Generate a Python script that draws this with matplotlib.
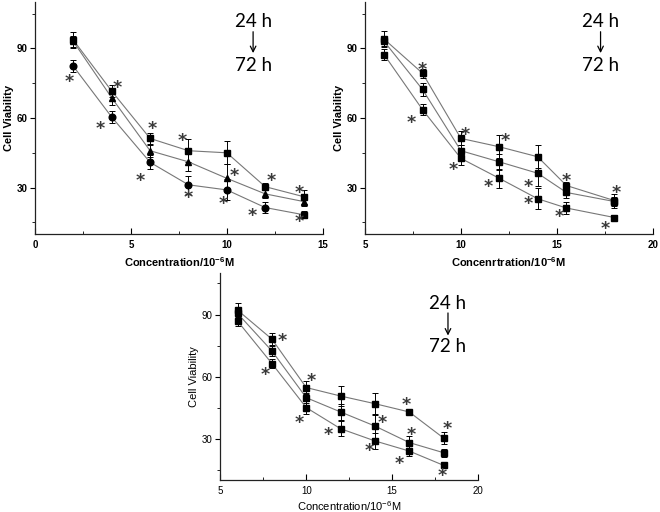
import numpy as np
import matplotlib
matplotlib.use("Agg")
import matplotlib.pyplot as plt
import matplotlib.transforms as mtransforms
from matplotlib.ticker import MultipleLocator

plt.rcParams['font.family'] = ['Liberation Sans', 'DejaVu Sans']
plt.rcParams['mathtext.fontset'] = 'custom'
plt.rcParams['mathtext.rm'] = 'Liberation Sans'
plt.rcParams['mathtext.bf'] = 'Liberation Sans:bold'

# -----------------------------
# Data
# -----------------------------
x1 = [2, 4, 6, 8, 10, 12, 14]
p1_sq = [93.6, 71.6, 51.2, 45.9, 45.0, 30.4, 26.1]
p1_sq_err = [3.5, 2.5, 2.5, 5.0, 5.0, 1.5, 3.0]
p1_tri = [93.0, 68.7, 45.9, 41.1, 34.0, 27.3, 24.0]
p1_tri_err = [2.5, 3.0, 2.5, 4.0, 6.0, 2.0, 2.0]
p1_cir = [82.3, 60.4, 40.9, 31.2, 29.0, 21.4, 18.3]
p1_cir_err = [2.5, 2.5, 3.0, 4.0, 4.5, 2.5, 1.5]
p1_stars_x = [1.8, 4.3, 3.4, 6.1, 5.5, 7.7, 8.0, 10.4, 9.8, 12.3, 11.3, 13.8, 13.8]
p1_stars_y = [77.6, 75.0, 57.3, 57.2, 34.7, 52.2, 27.3, 37.0, 24.7, 34.7, 19.5, 29.7, 16.9]

x2 = [6, 8, 10, 12, 14, 15.5, 18]
p2_a = [94.0, 79.3, 51.2, 47.6, 43.3, 30.9, 24.4]
p2_a_err = [3.5, 2.0, 3.0, 5.0, 5.0, 1.5, 3.0]
p2_b = [93.0, 72.3, 45.9, 41.1, 36.2, 27.9, 24.0]
p2_b_err = [2.0, 3.0, 2.5, 3.5, 5.5, 2.5, 2.0]
p2_c = [87.3, 63.6, 42.6, 34.0, 25.2, 21.2, 17.1]
p2_c_err = [2.5, 2.5, 3.0, 4.0, 4.5, 2.5, 1.0]
p2_stars_x = [8.0, 7.4, 10.2, 9.6, 12.3, 11.4, 13.5, 13.5, 15.5, 15.1, 18.1, 17.5]
p2_stars_y = [82.6, 59.7, 54.7, 39.7, 52.2, 32.1, 32.1, 24.7, 34.7, 19.3, 29.7, 14.3]

x3 = [6, 8, 10, 12, 14, 16, 18]
p3_a = [92.1, 78.1, 54.7, 50.6, 46.9, 42.9, 30.3]
p3_a_err = [3.5, 3.0, 3.0, 5.0, 5.3, 1.0, 3.0]
p3_b = [90.5, 72.4, 49.8, 42.9, 36.1, 28.1, 23.2]
p3_b_err = [2.0, 2.5, 2.5, 4.0, 6.0, 3.0, 2.0]
p3_c = [86.8, 66.3, 45.0, 34.8, 28.9, 24.0, 17.1]
p3_c_err = [2.5, 2.0, 3.0, 3.5, 4.0, 2.5, 1.0]
p3_stars_x = [8.6, 7.6, 10.3, 9.6, 11.3, 14.4, 13.7, 15.8, 16.1, 15.4, 18.2, 17.9]
p3_stars_y = [79.5, 62.7, 59.8, 39.7, 34.0, 39.7, 26.0, 48.2, 34.0, 19.8, 36.9, 13.9]


# -----------------------------
# Helpers
# -----------------------------
def draw_series(ax, x, y, err, markers):
    ax.plot(x, y, color='#777777', lw=0.8, zorder=1)
    ax.errorbar(x, y, yerr=err, fmt='none', ecolor='black', elinewidth=0.7,
                capsize=2.5, capthick=0.7, zorder=2)
    for xi, yi, m in zip(x, y, markers):
        ax.plot(xi, yi, marker=m, color='black', ms=4.8, zorder=3, ls='none')


def style_axes(ax, xlim, xmajor, xlabel, bold=True, xlabel_pad=4):
    weight = 'bold' if bold else 'normal'
    ax.set_xlim(*xlim)
    ax.set_ylim(10, 110)
    ax.spines['top'].set_visible(False)
    ax.spines['right'].set_visible(False)
    for s in ['left', 'bottom']:
        ax.spines[s].set_color('#222222')
        ax.spines[s].set_linewidth(0.9)
    ax.xaxis.set_major_locator(MultipleLocator(xmajor))
    ax.xaxis.set_minor_locator(MultipleLocator(xmajor / 2))
    ax.yaxis.set_major_locator(MultipleLocator(30))
    ax.yaxis.set_minor_locator(MultipleLocator(15))
    ax.tick_params(axis='x', which='both', direction='in', labelsize=7, pad=4)
    ax.tick_params(axis='x', which='major', length=4)
    ax.tick_params(axis='x', which='minor', length=2.5)
    ax.tick_params(axis='y', which='both', direction='out', labelsize=7, pad=2)
    ax.tick_params(axis='y', which='major', length=3.5)
    ax.tick_params(axis='y', which='minor', length=2)
    for lab in ax.get_xticklabels() + ax.get_yticklabels():
        lab.set_fontweight(weight)
    ax.set_ylabel('Cell Viability', fontsize=8, fontweight=weight, labelpad=2)
    ax.set_xlabel(xlabel, fontsize=8, fontweight=weight, labelpad=xlabel_pad)


def time_note(ax, x, y_top, y_bot, size=13.5):
    ax.text(x, y_top, '24 h', ha='center', va='center', fontsize=size, family='Lato')
    ax.text(x, y_bot, '72 h', ha='center', va='center', fontsize=size, family='Lato')
    ax.annotate('', xy=(x, y_bot + 4.2), xytext=(x, y_top - 3.2),
                arrowprops=dict(arrowstyle='->', color='black', lw=0.9,
                                mutation_scale=10))


def stars(ax, xs, ys):
    # the '*' glyph sits high in its box, so shift it down a little
    trans = mtransforms.offset_copy(ax.transData, fig=ax.figure, x=0, y=-4.5,
                                    units='dots')
    for sx, sy in zip(xs, ys):
        ax.text(sx, sy, '*', ha='center', va='center', fontsize=12.5,
                fontweight='bold', color='#3a3a3a', family='DejaVu Sans',
                transform=trans, zorder=4)


# -----------------------------
# Figure
# -----------------------------
fig = plt.figure(figsize=(6.6, 5.12), dpi=100)

ax1 = fig.add_axes([0.053, 0.543, 0.436, 0.453])
draw_series(ax1, x1, p1_sq, p1_sq_err, ['s'] * 7)
draw_series(ax1, x1, p1_tri, p1_tri_err, ['^'] * 7)
draw_series(ax1, x1, p1_cir, p1_cir_err, ['o'] * 6 + ['s'])
stars(ax1, p1_stars_x, p1_stars_y)
time_note(ax1, 11.37, 101.6, 82.6)
style_axes(ax1, (0, 15), 5, r'Concentration/10$\mathbf{^{-6}}$M')

ax2 = fig.add_axes([0.553, 0.543, 0.436, 0.453])
draw_series(ax2, x2, p2_a, p2_a_err, ['s'] * 7)
draw_series(ax2, x2, p2_b, p2_b_err, ['s'] * 7)
draw_series(ax2, x2, p2_c, p2_c_err, ['s'] * 7)
stars(ax2, p2_stars_x, p2_stars_y)
time_note(ax2, 17.28, 101.6, 82.6)
style_axes(ax2, (5, 20), 5, r'Concenrtration/10$\mathbf{^{-6}}$M')

ax3 = fig.add_axes([0.334, 0.0625, 0.390, 0.404])
draw_series(ax3, x3, p3_a, p3_a_err, ['s'] * 7)
draw_series(ax3, x3, p3_b, p3_b_err, ['s'] * 7)
draw_series(ax3, x3, p3_c, p3_c_err, ['s'] * 7)
stars(ax3, p3_stars_x, p3_stars_y)
time_note(ax3, 18.26, 95.3, 74.3)
style_axes(ax3, (5, 20), 5, r'Concentration/10$^{-6}$M', bold=False, xlabel_pad=2.5)

fig.savefig('out.png', dpi=100)
